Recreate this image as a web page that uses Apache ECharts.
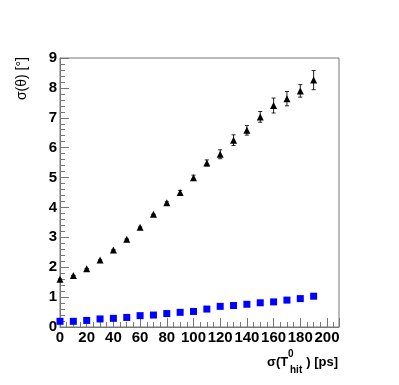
<!DOCTYPE html>
<html>
<head>
<meta charset="utf-8">
<script src="https://cdn.jsdelivr.net/npm/echarts@6/dist/echarts.min.js"></script>
<style>
  html, body { margin: 0; padding: 0; background: #fff; }
  #chart { width: 399px; height: 385px; }
</style>
</head>
<body>
<div id="chart"></div>
<script>
// Datos
const tHit = [0, 10, 20, 30, 40, 50, 60, 70, 80, 90, 100, 110, 120, 130, 140, 150, 160, 170, 180, 190];
const sigmaTheta = [1.60, 1.72, 1.95, 2.24, 2.58, 2.94, 3.34, 3.77, 4.16, 4.50, 4.99, 5.49, 5.78, 6.25, 6.58, 7.03, 7.41, 7.64, 7.90, 8.26];
const sigmaThetaErr = [0, 0, 0, 0, 0, 0, 0, 0, 0.03, 0.07, 0.09, 0.10, 0.15, 0.18, 0.16, 0.18, 0.25, 0.24, 0.21, 0.32];
const sigmaBlue = [0.19, 0.19, 0.22, 0.27, 0.29, 0.32, 0.38, 0.40, 0.45, 0.49, 0.52, 0.60, 0.69, 0.72, 0.76, 0.81, 0.84, 0.90, 0.95, 1.03];

const font = 'Liberation Sans, Arial, Helvetica, sans-serif';
const chart = echarts.init(document.getElementById('chart'));

const triData = tHit.map((x, i) => [x, sigmaTheta[i]]);
const errData = tHit.map((x, i) => [x, sigmaTheta[i] - sigmaThetaErr[i], sigmaTheta[i] + sigmaThetaErr[i]]);
const blueData = tHit.map((x, i) => [x, sigmaBlue[i]]);

const option = {
  animation: false,
  backgroundColor: '#fff',
  grid: {
    left: 60, top: 58, right: 60, bottom: 58,
    show: true,
    borderColor: '#777',
    borderWidth: 1,
    backgroundColor: 'transparent'
  },
  xAxis: {
    type: 'value',
    min: 0, max: 209, interval: 20,
    axisLine: { lineStyle: { color: '#777' } },
    axisTick: { inside: true, length: 9, lineStyle: { color: '#777' } },
    minorTick: { show: true, splitNumber: 4, length: 5, lineStyle: { color: '#777' } },
    splitLine: { show: false },
    axisLabel: {
      color: '#000', fontFamily: font, fontWeight: 'bold', fontSize: 15,
      margin: 3, showMaxLabel: false
    }
  },
  yAxis: {
    type: 'value',
    min: 0, max: 9, interval: 1,
    axisLine: { lineStyle: { color: '#777' } },
    axisTick: { inside: true, length: 9, lineStyle: { color: '#777' } },
    minorTick: { show: true, splitNumber: 5, length: 5, lineStyle: { color: '#777' } },
    splitLine: { show: false },
    axisLabel: {
      color: '#000', fontFamily: font, fontWeight: 'bold', fontSize: 15, margin: 3
    }
  },
  graphic: [
    {
      type: 'text', x: 22, y: 57, rotation: Math.PI / 2,
      style: { text: 'σ(θ) [°]', fill: '#000', font: '14px ' + font, align: 'right', verticalAlign: 'middle' }
    },
    {
      type: 'text', x: 267, y: 362,
      style: { text: 'σ(T', fill: '#000', font: 'bold 13px ' + font, align: 'left', verticalAlign: 'middle' }
    },
    {
      type: 'text', x: 288, y: 354,
      style: { text: '0', fill: '#000', font: 'bold 10px ' + font, align: 'left', verticalAlign: 'middle' }
    },
    {
      type: 'text', x: 290, y: 370,
      style: { text: 'hit', fill: '#000', font: 'bold 10px ' + font, align: 'left', verticalAlign: 'middle' }
    },
    {
      type: 'text', x: 338, y: 362,
      style: { text: ') [ps]', fill: '#000', font: 'bold 13px ' + font, align: 'right', verticalAlign: 'middle' }
    }
  ],
  series: [
    {
      name: 'errores',
      type: 'custom',
      data: errData,
      renderItem: function (params, api) {
        const x = api.value(0);
        const lo = api.coord([x, api.value(1)]);
        const hi = api.coord([x, api.value(2)]);
        const w = 2;
        const st = { stroke: '#222', lineWidth: 1 };
        return {
          type: 'group',
          children: [
            { type: 'line', shape: { x1: lo[0], y1: lo[1], x2: hi[0], y2: hi[1] }, style: st },
            { type: 'line', shape: { x1: lo[0] - w, y1: lo[1], x2: lo[0] + w, y2: lo[1] }, style: st },
            { type: 'line', shape: { x1: hi[0] - w, y1: hi[1], x2: hi[0] + w, y2: hi[1] }, style: st }
          ]
        };
      },
      z: 2
    },
    {
      name: 'triangulos',
      type: 'scatter',
      symbol: 'triangle',
      symbolSize: 7,
      itemStyle: { color: '#000', opacity: 1 },
      data: triData,
      z: 3
    },
    {
      name: 'cuadrados',
      type: 'scatter',
      symbol: 'rect',
      symbolSize: 7,
      itemStyle: { color: '#0000ff', opacity: 1 },
      data: blueData,
      z: 3
    }
  ]
};
chart.setOption(option);
</script>
</body>
</html>
